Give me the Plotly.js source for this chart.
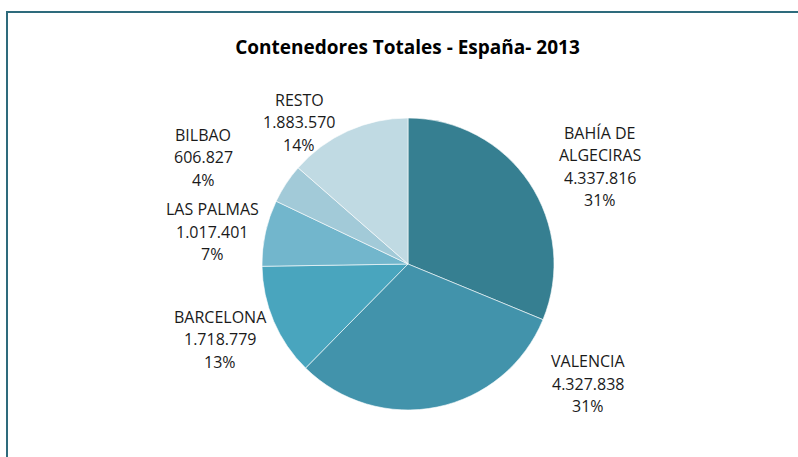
<!DOCTYPE html>
<html>
<head>
<meta charset="utf-8">
<script src="https://cdn.plot.ly/plotly-3.0.1.min.js"></script>
<style>html,body{margin:0;padding:0;background:#fff;}#chart{width:798px;height:457px;}</style>
</head>
<body>
<div id="chart"></div>
<script>
const ports = ["BAHÍA DE<br>ALGECIRAS", "VALENCIA", "BARCELONA", "LAS PALMAS", "BILBAO", "RESTO"];
const containers = [4337816, 4327838, 1718779, 1017401, 606827, 1883570];
const percentLabels = ["31%", "31%", "13%", "7%", "4%", "14%"];
const colors = ["#367f91", "#4293ab", "#49a5be", "#72b6cc", "#a2cad8", "#c0dae3"];

// label block centre positions (pixels in the 798x457 frame)
const labelPos = [[600, 166.5], [588, 383.5], [220, 339], [212, 231.5], [203, 157], [299, 122]];

function fmt(n) {
  return String(n).replace(/\B(?=(\d{3})+(?!\d))/g, ".");
}

const W = 798, H = 457;
const cx = 408, cy = 264, r = 146;
const lineGap = 22.5;

const trace = {
  type: "pie",
  labels: ports,
  values: containers,
  sort: false,
  direction: "clockwise",
  rotation: 0,
  textinfo: "none",
  hoverinfo: "label+value+percent",
  marker: { colors: colors, line: { color: "#ffffff", width: 0.6 } },
  domain: { x: [(cx - r) / W, (cx + r) / W], y: [1 - (cy + r) / H, 1 - (cy - r) / H] },
  showlegend: false
};

const annotations = [];
ports.forEach((p, i) => {
  const lines = p.split("<br>").concat([fmt(containers[i]), percentLabels[i]]);
  const n = lines.length;
  lines.forEach((t, k) => {
    const py = labelPos[i][1] + (k - (n - 1) / 2) * lineGap;
    annotations.push({
      x: labelPos[i][0] / W,
      y: 1 - py / H,
      xref: "paper", yref: "paper",
      xanchor: "center", yanchor: "middle",
      showarrow: false,
      text: t,
      font: { family: "Open Sans, sans-serif", size: 16, color: "#1a1a1a" }
    });
  });
});

const layout = {
  width: W, height: H,
  margin: { l: 0, r: 0, t: 0, b: 0 },
  paper_bgcolor: "#ffffff",
  title: {
    text: "<b>Contenedores Totales - España- 2013</b>",
    x: 407.5 / W, xanchor: "center",
    y: 1 - 47 / H, yanchor: "middle",
    font: { family: "Open Sans, sans-serif", size: 19, color: "#000000" }
  },
  annotations: annotations,
  shapes: [{
    type: "rect", xref: "paper", yref: "paper",
    x0: 7 / W, x1: 1.02, y0: -0.02, y1: 1 - 12 / H,
    line: { color: "#2e6b7c", width: 2 }
  }]
};

Plotly.newPlot("chart", [trace], layout, { displayModeBar: false, staticPlot: true });
</script>
</body>
</html>
